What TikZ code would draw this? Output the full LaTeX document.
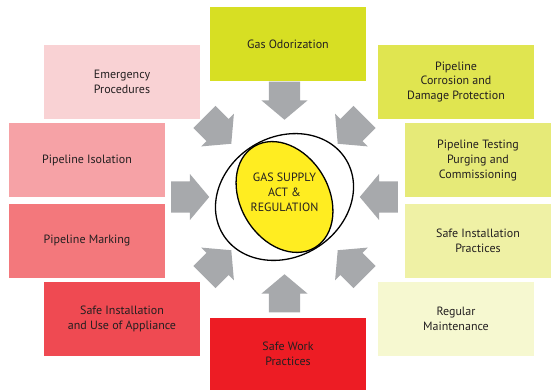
\documentclass[tikz,border=0pt]{standalone}
\usepackage{fontspec}
\setmainfont{PT Sans}
\usetikzlibrary{positioning,shapes.arrows}
\definecolor{inkgray}{RGB}{35,31,32}
\definecolor{arrowgray}{RGB}{167,169,172}
\definecolor{actyellow}{RGB}{255,237,33}
% greens, darkest first
\definecolor{greenA}{RGB}{215,223,35}
\definecolor{greenB}{RGB}{224,229,80}
\definecolor{greenC}{RGB}{230,234,120}
\definecolor{greenD}{RGB}{239,241,165}
\definecolor{greenE}{RGB}{246,248,208}
% reds, lightest first
\definecolor{redA}{RGB}{249,210,212}
\definecolor{redB}{RGB}{246,162,166}
\definecolor{redC}{RGB}{243,120,124}
\definecolor{redD}{RGB}{239,74,82}
\definecolor{redE}{RGB}{237,28,36}

\begin{document}
\begin{tikzpicture}[x=1pt,y=1pt,node distance=6pt,
    topic/.style={rectangle,minimum width=156pt,minimum height=74pt,inner sep=0pt,
      align=center,text=inkgray,font=\fontsize{12}{14.7}\selectfont},
    pointer/.style={single arrow,fill=arrowgray,minimum height=38pt,inner xsep=0pt,
      inner ysep=15.5pt,single arrow head extend=7.5pt,single arrow tip angle=100}]
  \useasboundingbox (0,0) rectangle (551,390);
  \coordinate (c) at (284.5,193);

  % centre
  \draw[fill=actyellow,line width=1.3pt,rotate around={31:(c)}] (c) ellipse [x radius=44,y radius=59];
  \draw[line width=1.3pt,rotate around={31:(c)}] (c) ellipse [x radius=72,y radius=60];
  \node[align=center,text=inkgray,font=\fontsize{12}{15}\selectfont] (act) at (284.5,198)
    {GAS SUPPLY\\ACT \&\\REGULATION};

  % topics round the centre
  \node[topic,fill=greenA] (odor) at (288,346) {Gas Odorization};
  \node[topic,fill=greenB] (corr) at (456,308) {Pipeline\\Corrosion and\\Damage Protection};
  \node[topic,fill=greenC,minimum width=146pt] (test) at (478,229.5) {Pipeline Testing\\Purging and\\Commissioning};
  \node[topic,fill=greenD,minimum width=146pt,below=6pt of test] (prac) {Safe Installation\\Practices};
  \node[topic,fill=greenE] (maint) at (456,71) {Regular\\Maintenance};
  \node[topic,fill=redA] (emerg) at (122,308) {Emergency\\Procedures};
  \node[topic,fill=redB] (isol) at (87,229.5) {Pipeline Isolation};
  \node[topic,fill=redC,below=6pt of isol] (mark) {Pipeline Marking};
  \node[topic,fill=redD] (appl) at (122,71) {Safe Installation\\and Use of Appliance};
  \node[topic,fill=redE,minimum height=72pt] (work) at (288,36) {Safe Work\\Practices};

  % arrows pointing in
  \foreach \a/\r in {0/75,45/75,90/77,135/75,180/75,225/75,270/77,315/75}
    \node[pointer,rotate=\a+180,anchor=tip] (in\a) at ([shift={(\a:\r)}]c) {};
\end{tikzpicture}
\end{document}
